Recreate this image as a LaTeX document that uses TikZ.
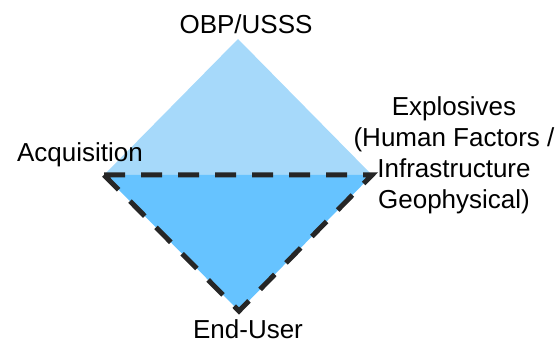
\documentclass[tikz,border=0pt]{standalone}
\usepackage{fontspec}
\setmainfont{Liberation Sans}
\definecolor{upperblue}{RGB}{166,217,250}
\definecolor{lowerblue}{RGB}{102,195,255}
\definecolor{dashcol}{RGB}{38,38,38}
\begin{document}
\begin{tikzpicture}[x=1pt,y=-1pt,
  lbl/.style={inner sep=0pt,font=\fontsize{26}{31.3}\selectfont},
  border/.style={draw=dashcol,line width=5pt,dash pattern=on 21pt off 16pt,line join=miter}]
\useasboundingbox (0,0) rectangle (560,344);
\coordinate (T) at (238,39);
\coordinate (L) at (104,175);
\coordinate (R) at (372,175);
\coordinate (B) at (239,311);
\fill[upperblue] (L) -- (T) -- (R) -- cycle;
\fill[lowerblue] (L) -- (R) -- (B) -- cycle;
\draw[border] (L) -- (R) -- (B) -- cycle;
\node[lbl,anchor=base] (obp) at (246,34) {OBP/USSS};
\node[lbl,anchor=base] (acq) at (80,162) {Acquisition};
\node[lbl,anchor=base,align=center] (exp) at (454,209) {Explosives\\(Human Factors /\\Infrastructure\\Geophysical)};
\node[lbl,anchor=base] (end) at (248,339) {End-User};
\end{tikzpicture}
\end{document}
